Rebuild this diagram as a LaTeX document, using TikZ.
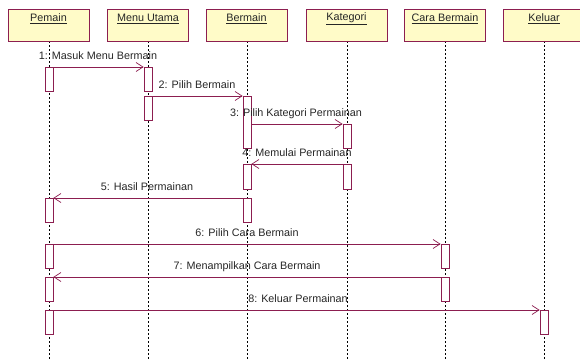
\documentclass[tikz,border=0pt]{standalone}
\usepackage{fontspec}
\setmainfont{Liberation Sans}
\usetikzlibrary{arrows.meta}
\definecolor{mar}{RGB}{140,30,80}
\definecolor{pale}{RGB}{255,251,200}
\tikzset{
  obj/.style={draw=mar, fill=pale, line width=0.8pt, minimum width=81pt, minimum height=32pt, inner sep=0pt, anchor=north},
  life/.style={black, line width=0.6pt, dash pattern=on 2pt off 2pt},
  act/.style={draw=mar, fill=white, line width=0.7pt, minimum width=8pt, inner sep=0pt, anchor=north},
  msg/.style={draw=mar, line width=0.7pt, -{Straight Barb[length=7pt,width=9pt]}},
  lbl/.style={font=\fontsize{10.8pt}{12pt}\selectfont, anchor=base, inner sep=0pt, text=black!85},
  hd/.style={font=\fontsize{10.8pt}{12pt}\selectfont, text=black!85}
}
\begin{document}
\begin{tikzpicture}[x=1pt,y=-1pt]
\useasboundingbox (0,0) rectangle (580,359);
\clip (0,0) rectangle (580,359);
% lifelines
\foreach \n/\x in {p/49,m/148,b/247,k/347,c/445,e/544}{
  \coordinate (\n top) at (\x,41);
  \coordinate (\n bot) at (\x,359);
  \draw[life] (\n top) -- (\n bot);
}
% object boxes
\node[obj] (P) at (48.5,9) {};
\node[obj] (M) at (148,9) {};
\node[obj] (B) at (246.5,9) {};
\node[obj] (K) at (346.5,9) {};
\node[obj] (C) at (445,9) {};
\node[obj] (E) at (544,9) {};
\node[hd] at (48.5,19) {\underline{Pemain}};
\node[hd] at (148,19) {\underline{Menu Utama}};
\node[hd] at (246.5,19) {\underline{Bermain}};
\node[hd] at (346.5,19) {\underline{Kategori}};
\node[hd] at (445,19) {\underline{Cara Bermain}};
\node[hd] at (544,19) {\underline{Keluar}};
% activations
\node[act, minimum height=24pt] (p1) at (49,67) {};
\node[act, minimum height=24pt] (m1) at (148,67) {};
\node[act, minimum height=24pt] (m2) at (148,96) {};
\node[act, minimum height=52pt] (b1) at (247,96) {};
\node[act, minimum height=24pt] (k1) at (347,124) {};
\node[act, minimum height=25pt] (k2) at (347,164) {};
\node[act, minimum height=25pt] (b2) at (247,164) {};
\node[act, minimum height=24pt] (b3) at (247,198) {};
\node[act, minimum height=24pt] (p2) at (49,198) {};
\node[act, minimum height=24pt] (p3) at (49,244) {};
\node[act, minimum height=24pt] (c1) at (445,244) {};
\node[act, minimum height=24pt] (c2) at (445,277) {};
\node[act, minimum height=24pt] (p4) at (49,277) {};
\node[act, minimum height=24pt] (p5) at (49,310) {};
\node[act, minimum height=24pt] (e1) at (544,310) {};
% messages
\draw[msg] (p1.north east) -- (m1.north west);
\draw[msg] (m2.north east) -- (b1.north west);
\draw[msg] (k1.north west -| b1.east) -- (k1.north west);
\draw[msg] (k2.north west) -- (b2.north east);
\draw[msg] (b3.north west) -- (p2.north east);
\draw[msg] (p3.north east) -- (c1.north west);
\draw[msg] (c2.north west) -- (p4.north east);
\draw[msg] (p5.north east) -- (e1.north west);
% labels
\node[lbl] (l1) at (98,59) {1: Masuk Menu Bermain};
\node[lbl] (l2) at (197,88) {2: Pilih Bermain};
\node[lbl] (l3) at (296,116) {3: Pilih Kategori Permainan};
\node[lbl] (l4) at (297,156) {4: Memulai Permainan};
\node[lbl] (l5) at (147,190) {5: Hasil Permainan};
\node[lbl] (l6) at (247,236) {6: Pilih Cara Bermain};
\node[lbl] (l7) at (247,269) {7: Menampilkan Cara Bermain};
\node[lbl] (l8) at (298,302) {8: Keluar Permainan};
\end{tikzpicture}
\end{document}
